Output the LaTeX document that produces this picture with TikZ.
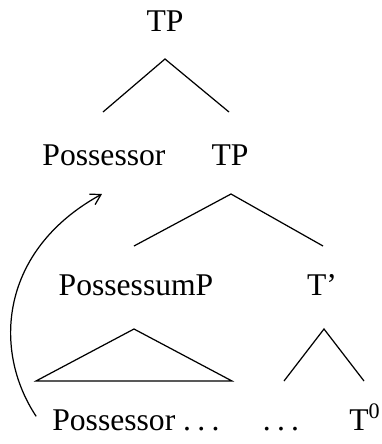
\documentclass[tikz,border=0pt]{standalone}
\usepackage{fontspec}
\setmainfont{Liberation Serif}
\usepackage{tikz}
\usetikzlibrary{arrows.meta,positioning}
\newcommand{\sepdots}{.\kern0.2em.\kern0.2em.}

\begin{document}
\begin{tikzpicture}[
  x=0.02cm,y=-0.02cm,
  label/.style={inner sep=0pt,anchor=base,font=\fontsize{18}{22}\selectfont},
  branch/.style={draw=black,line width=0.7pt},
  move/.style={-{Straight Barb[length=2mm,width=2.4mm]},line width=0.7pt}
]
\useasboundingbox (0,0) rectangle (382,444);
% labels
\node[label] (tp) at (165,31) {TP};
\node[label] (poss) at (104,165) {Possessor};
\node[label] (tpb) at (230,165) {TP};
\node[label] (possum) at (136,295) {PossessumP};
\node[label] (tbar) at (322,295) {T'};
\node[label,anchor=base west] (posslow) at (52,430) {Possessor \sepdots};
\node[label] (dots) at (281,430) {\sepdots};
\node[label,anchor=base west] (tzero) at (349,430) {T\textsuperscript{0}};
% branch points
\coordinate (a) at (165,59);
\coordinate (al) at (103,112);
\coordinate (ar) at (229,112);
\coordinate (b) at (231,194);
\coordinate (bl) at (134,246);
\coordinate (br) at (323,246);
\coordinate (c) at (134,329);
\coordinate (cl) at (36,381);
\coordinate (cr) at (232,381);
\coordinate (d) at (324,329);
\coordinate (dl) at (284,381);
\coordinate (dr) at (364,381);
\coordinate (land) at (102,194);
\draw[branch] (al)--(a)--(ar);
\draw[branch] (bl)--(b)--(br);
\draw[branch] (cl)--(c)--(cr)--cycle;
\draw[branch] (dl)--(d)--(dr);
% movement
\draw[move] ([xshift=-9pt,yshift=2pt]posslow.west) .. controls (-8,350) and (0,250) .. (land);
\end{tikzpicture}
\end{document}
